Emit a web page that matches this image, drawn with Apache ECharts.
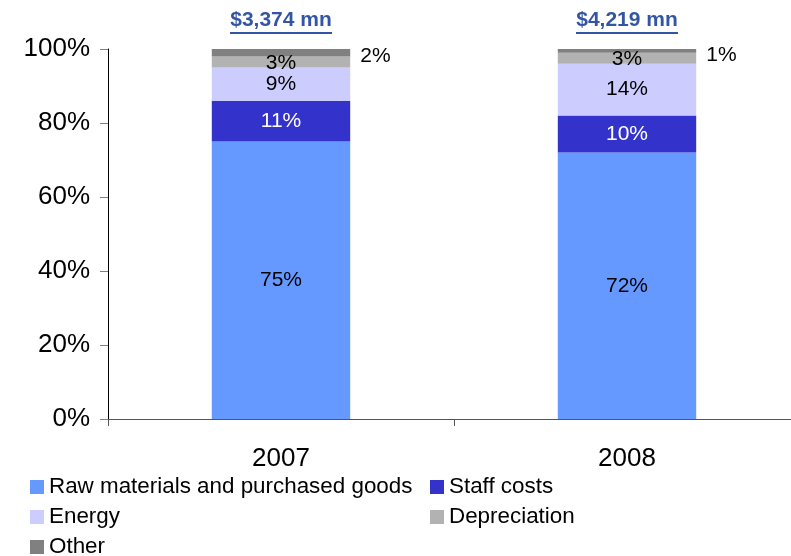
<!DOCTYPE html>
<html>
<head>
<meta charset="utf-8">
<script src="https://cdn.jsdelivr.net/npm/echarts@6/dist/echarts.min.js"></script>
<style>
  html, body { margin: 0; padding: 0; background: #fff; overflow: hidden; }
  /* the horizontal axis runs on past the right edge of the window */
  #chart { width: 800px; height: 556px; }
</style>
</head>
<body>
<div id="chart"></div>
<script>
// Cost structure by year (share of total, %)
const years = ['2007', '2008'];
const totals = ['$3,374 mn', '$4,219 mn'];
const rawMaterials = [75, 72];
const staffCosts = [11, 10];
const energy = [9, 14];
const depreciation = [3, 3];
const other = [2, 1];
const yTicks = [0, 20, 40, 60, 80, 100];

const FONT = '"Liberation Sans", Arial, sans-serif';
const totalColor = '#002b8f';

// width of the bold total labels, used to size the underline
const measure = (() => {
  const c = document.createElement('canvas').getContext('2d');
  c.font = 'bold 21px ' + FONT;
  return t => Math.round(c.measureText(t).width);
})();

const segLabel = (color) => ({
  show: true,
  position: 'inside',
  color: color,
  fontFamily: FONT,
  fontSize: 21,
  formatter: p => p.value + '%'
});

const barBase = {
  type: 'bar',
  stack: 'total',
  barWidth: '40%'
};

const chart = echarts.init(document.getElementById('chart'), null, { renderer: 'canvas' });

chart.setOption({
  animation: false,
  backgroundColor: '#ffffff',
  grid: { left: 108, top: 49, bottom: 137, right: 0, containLabel: false },
  xAxis: {
    type: 'category',
    data: years,
    axisLine: { lineStyle: { color: '#555555', width: 1 } },
    axisTick: { show: true, length: 7, lineStyle: { color: '#555555' } },
    axisLabel: { color: '#000', fontFamily: FONT, fontSize: 26, margin: 27 }
  },
  yAxis: {
    type: 'value',
    min: yTicks[0],
    max: yTicks[yTicks.length - 1],
    interval: yTicks[1] - yTicks[0],
    splitLine: { show: false },
    axisLine: { show: true, lineStyle: { color: '#000', width: 1 } },
    axisTick: { show: true, length: 8, lineStyle: { color: '#808080' } },
    axisLabel: { color: '#000', fontFamily: FONT, fontSize: 26, margin: 18, formatter: v => v + '%' }
  },
  legend: {
    left: 25,
    top: 471,
    width: 800,
    orient: 'horizontal',
    itemWidth: 14,
    itemHeight: 14,
    itemGap: 8,
    icon: 'rect',
    data: ['Raw materials and purchased goods', 'Staff costs', 'Energy', 'Depreciation', 'Other'],
    textStyle: { color: '#000', fontFamily: FONT, fontSize: 22.4, lineHeight: 22, width: 373 }
  },
  series: [
    Object.assign({}, barBase, {
      name: 'Raw materials and purchased goods',
      data: rawMaterials,
      itemStyle: { color: '#6699ff' },
      label: segLabel('#000')
    }),
    Object.assign({}, barBase, {
      name: 'Staff costs',
      data: staffCosts,
      itemStyle: { color: '#3333cc' },
      label: segLabel('#ffffff')
    }),
    Object.assign({}, barBase, {
      name: 'Energy',
      data: energy,
      itemStyle: { color: '#ccccff' },
      label: segLabel('#000')
    }),
    Object.assign({}, barBase, {
      name: 'Depreciation',
      data: depreciation,
      itemStyle: { color: '#b2b2b2' },
      label: Object.assign(segLabel('#000'), { offset: [0, 1] })
    }),
    Object.assign({}, barBase, {
      name: 'Other',
      data: other,
      itemStyle: { color: '#808080' },
      label: Object.assign(segLabel('#000'), { position: 'right', distance: 10, offset: [0, 4] })
    }),
    {
      // yearly totals above each column
      type: 'scatter',
      symbolSize: 0,
      silent: true,
      data: years.map((y, i) => ({
        value: 100,
        label: {
          show: true,
          position: 'top',
          distance: 15,
          formatter: '{t|' + totals[i] + '}\n{u|}',
          rich: {
            t: { fontFamily: FONT, fontSize: 21, fontWeight: 'bold', color: totalColor, lineHeight: 24, align: 'center' },
            u: { width: measure(totals[i]), height: 2, lineHeight: 2, backgroundColor: totalColor, align: 'center' }
          }
        }
      }))
    }
  ]
});
</script>
</body>
</html>
